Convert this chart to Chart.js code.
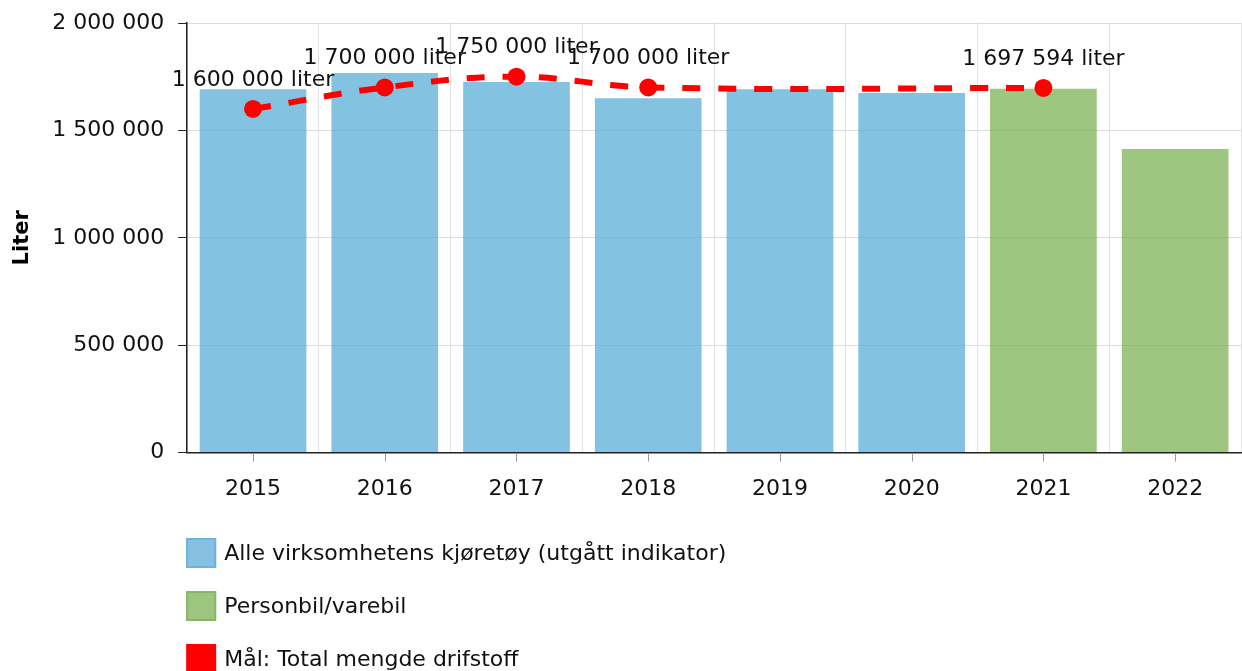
<!DOCTYPE html>
<html lang="no">
<head>
    <meta charset="UTF-8">
    <title>Drivstoff</title>
    <script src="https://cdn.jsdelivr.net/npm/chart.js"></script>
    <style>
        body { margin: 0; overflow: hidden; background: #fff; }
        #wrap { position: relative; width: 1250px; height: 671px; }
    </style>
</head>
<body>
    <div id="wrap"><canvas id="fuelChart"></canvas></div>

    <script>
        const years = ['2015', '2016', '2017', '2018', '2019', '2020', '2021', '2022'];
        const allVehicles = [1692000, 1767000, 1725000, 1650000, 1692000, 1674000, null, null];
        const carsVans = [null, null, null, null, null, null, 1694000, 1413000];
        const target = [1600000, 1700000, 1750000, 1700000, null, null, 1697594, null];
        const seriesNames = ['Alle virksomhetens kjøretøy (utgått indikator)', 'Personbil/varebil', 'Mål: Total mengde drifstoff'];

        const FONT = '"DejaVu Sans", Verdana, sans-serif';

        // 1700000 -> "1 700 000"
        function spaced(n) {
            return String(n).replace(/\B(?=(\d{3})+(?!\d))/g, ' ');
        }

        // value labels above the target points
        const pointLabels = {
            id: 'pointLabels',
            afterDatasetsDraw(chart) {
                const ctx = chart.ctx;
                const meta = chart.getDatasetMeta(2);
                ctx.save();
                ctx.font = '22px ' + FONT;
                ctx.fillStyle = '#111';
                ctx.textAlign = 'center';
                ctx.textBaseline = 'middle';
                meta.data.forEach((pt, i) => {
                    const v = target[i];
                    if (v == null) return;
                    ctx.fillText(spaced(v) + ' liter', pt.x, pt.y - 29);
                });
                ctx.restore();
            }
        };

        // x tick marks at category centres, grid lines stay at the boundaries
        const centreTicks = {
            id: 'centreTicks',
            afterDraw(chart) {
                const ctx = chart.ctx;
                const x = chart.scales.x;
                ctx.save();
                ctx.strokeStyle = '#999';
                ctx.lineWidth = 1;
                years.forEach((y, i) => {
                    const px = Math.round(x.getPixelForValue(i)) + 0.5;
                    ctx.beginPath();
                    ctx.moveTo(px, x.top + 1);
                    ctx.lineTo(px, x.top + 9);
                    ctx.stroke();
                });
                ctx.restore();
            }
        };

        // one legend row per dataset, under the axis
        const stackedLegend = {
            id: 'stackedLegend',
            afterDraw(chart) {
                const ctx = chart.ctx;
                const left = chart.chartArea.left - 1;
                let top = chart.scales.x.bottom + 22;
                ctx.save();
                ctx.font = '22px ' + FONT;
                ctx.textBaseline = 'middle';
                chart.data.datasets.forEach((ds, i) => {
                    ctx.fillStyle = ds.legendFill;
                    ctx.fillRect(left, top, 30, 30);
                    if (ds.legendEdge) {
                        ctx.strokeStyle = ds.legendEdge;
                        ctx.lineWidth = 2;
                        ctx.strokeRect(left + 1, top + 1, 28, 28);
                    }
                    ctx.fillStyle = '#111';
                    ctx.fillText(seriesNames[i], left + 38, top + 16);
                    top += 53;
                });
                ctx.restore();
            }
        };

        const ctx = document.getElementById('fuelChart').getContext('2d');
        new Chart(ctx, {
            data: {
                labels: years,
                datasets: [
                    {
                        type: 'bar',
                        label: seriesNames[0],
                        data: allVehicles,
                        backgroundColor: 'rgba(79, 169, 212, 0.7)',
                        legendFill: '#85c2e1',
                        legendEdge: '#6cb4dc',
                        skipNull: true,
                        barPercentage: 0.81,
                        categoryPercentage: 1,
                        order: 2
                    },
                    {
                        type: 'bar',
                        label: seriesNames[1],
                        data: carsVans,
                        backgroundColor: 'rgba(116, 174, 74, 0.7)',
                        legendFill: '#9dc57f',
                        legendEdge: '#85b865',
                        skipNull: true,
                        barPercentage: 0.81,
                        categoryPercentage: 1,
                        order: 2
                    },
                    {
                        type: 'line',
                        label: seriesNames[2],
                        data: target,
                        borderColor: '#ff0000',
                        backgroundColor: '#ff0000',
                        legendFill: '#ff0000',
                        borderWidth: 6,
                        borderDash: [18, 18],
                        pointRadius: 9,
                        pointHoverRadius: 9,
                        pointBorderWidth: 0,
                        tension: 0.4,
                        spanGaps: true,
                        fill: false,
                        order: 0
                    }
                ]
            },
            options: {
                responsive: true,
                maintainAspectRatio: false,
                animation: false,
                layout: { padding: { top: 23, left: 10, right: 0, bottom: 155 } },
                plugins: {
                    legend: { display: false },
                    tooltip: { enabled: false }
                },
                scales: {
                    x: {
                        grid: {
                            offset: true,
                            color: '#e2e2e2',
                            tickLength: 9,
                            tickColor: 'rgba(0,0,0,0)'
                        },
                        border: { color: '#222', width: 1.5 },
                        ticks: {
                            color: '#111',
                            font: { family: FONT, size: 22 },
                            padding: 14
                        }
                    },
                    y: {
                        min: 0,
                        max: 2000000,
                        afterFit: s => { s.paddingTop = 0; },
                        grid: {
                            color: '#dcdcdc',
                            tickLength: 9,
                            tickColor: '#222'
                        },
                        border: { color: '#222', width: 1.5 },
                        ticks: {
                            stepSize: 500000,
                            color: '#111',
                            font: { family: FONT, size: 22 },
                            padding: 14,
                            callback: v => spaced(v)
                        },
                        title: {
                            display: true,
                            text: 'Liter',
                            color: '#000',
                            font: { family: FONT, size: 21, weight: 'bold' },
                            padding: { top: 0, bottom: 3 }
                        }
                    }
                }
            },
            plugins: [pointLabels, centreTicks, stackedLegend]
        });
    </script>
</body>
</html>
